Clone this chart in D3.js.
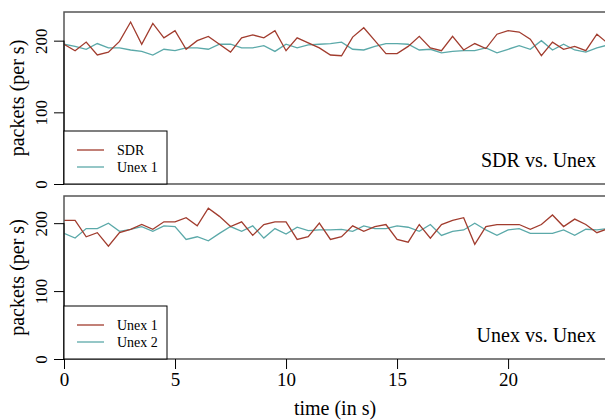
<!DOCTYPE html>
<html lang="en">
<head>
<meta charset="utf-8">
<title>packets per second</title>
<script src="https://cdnjs.cloudflare.com/ajax/libs/d3/7.8.5/d3.min.js"></script>
<style>
  body { margin: 0; background: #fff; }
  svg text { font-family: "Liberation Serif", "Times New Roman", serif !important; fill: #000; }
</style>
</head>
<body>
<script>
// samples every 0.5 s
var sdr = [195,186,198,180,184,199,226,195,224,204,214,188,200,206,195,184,204,208,204,214,
           186,204,197,190,180,179,205,218,200,182,182,192,206,190,186,206,187,196,189,209,
           214,212,202,179,198,188,192,186,209,196];
var unexA = [195,192,188,196,190,190,187,185,180,188,186,190,190,188,195,195,190,190,193,185,
             195,190,194,195,196,198,188,187,192,196,196,195,187,188,183,185,186,186,190,183,
             188,193,188,200,187,195,187,184,190,194];
var unex1 = [204,204,180,186,166,186,191,198,191,202,202,208,196,222,210,195,202,182,198,202,
             202,176,180,200,176,180,196,188,195,198,176,172,198,178,198,204,208,169,195,198,
             198,198,191,198,212,195,206,198,186,192];
var unex2 = [185,178,192,192,200,188,191,195,188,196,195,176,180,174,185,195,188,196,178,192,
             184,194,189,190,190,191,188,196,192,192,196,194,188,198,182,188,190,200,190,182,
             190,192,185,185,185,190,182,191,190,192];
var xTicks = [0, 5, 10, 15, 20];
var yTicks = [0, 100, 200];

var panels = [
  {top: 12, bottom: 184, a: sdr, b: unexA, names: ["SDR", "Unex 1"], title: "SDR vs. Unex"},
  {top: 196, bottom: 359, a: unex1, b: unex2, names: ["Unex 1", "Unex 2"], title: "Unex vs. Unex"}
];

var w = 605, h = 420;
var left = 64, right = 608;
var red = "#a13c2e", teal = "#5ba9a9";

var svg = d3.select("body").append("svg").attr("width", w).attr("height", h)
  .attr("font-family", "Liberation Serif");

var x = d3.scaleLinear().domain([0, 24.5]).range([left, right]);

panels.forEach(function(p, k) {
  var y = d3.scaleLinear().domain([0, 240]).range([p.bottom, p.top]);
  var g = svg.append("g");

  g.append("clipPath").attr("id", "clip" + k)
    .append("rect").attr("x", left).attr("y", p.top).attr("width", right - left).attr("height", p.bottom - p.top);

  var line = d3.line()
    .x(function(d, i) { return x(i * 0.5); })
    .y(function(d) { return y(d); });

  g.append("path").datum(p.b).attr("d", line)
    .attr("clip-path", "url(#clip" + k + ")")
    .style("fill", "none").style("stroke", teal).style("stroke-width", 1.3);
  g.append("path").datum(p.a).attr("d", line)
    .attr("clip-path", "url(#clip" + k + ")")
    .style("fill", "none").style("stroke", red).style("stroke-width", 1.3);

  // panel box
  g.append("rect").attr("x", left).attr("y", p.top)
    .attr("width", right - left + 4).attr("height", p.bottom - p.top)
    .style("fill", "none").style("stroke", "#555").style("stroke-width", 1.5);

  // y axis
  var ya = g.append("g").attr("transform", "translate(" + left + ",0)")
    .call(d3.axisLeft(y).tickValues(yTicks).tickSize(10).tickFormat(d3.format("d")))
    .attr("font-family", null);
  ya.select(".domain").attr("d", "M0," + y(0) + "V" + y(200)).style("stroke", "#000");
  ya.selectAll(".tick line").style("stroke", "#000");
  ya.selectAll(".tick text")
    .attr("x", null).attr("dy", null)
    .attr("transform", "translate(-17,0) rotate(-90)")
    .attr("text-anchor", "middle")
    .style("font-size", "17px");

  g.append("text")
    .attr("transform", "translate(24," + ((p.top + p.bottom) / 2) + ") rotate(-90)")
    .attr("text-anchor", "middle")
    .style("font-size", "20px")
    .text("packets (per s)");

  // legend
  var lg = g.append("g");
  var lh = 53;
  lg.append("rect").attr("x", left).attr("y", p.bottom - lh)
    .attr("width", 103).attr("height", lh)
    .style("fill", "#fff").style("stroke", "#000").style("stroke-width", 1);
  [red, teal].forEach(function(c, i) {
    var ly = p.bottom - lh + 19 + i * 17;
    lg.append("line").attr("x1", left + 13).attr("x2", left + 40)
      .attr("y1", ly).attr("y2", ly)
      .style("stroke", c).style("stroke-width", 1.3);
    lg.append("text").attr("x", left + 53).attr("y", ly + 5)
      .style("font-size", "14px").text(p.names[i]);
  });

  g.append("text").attr("x", 596).attr("y", p.bottom - 17)
    .attr("text-anchor", "end").style("font-size", "20px").text(p.title);

  if (k === 1) {
    var xa = g.append("g").attr("transform", "translate(0," + p.bottom + ")")
      .call(d3.axisBottom(x).tickValues(xTicks).tickSize(10))
      .attr("font-family", null);
    xa.select(".domain").remove();
    xa.selectAll(".tick line").style("stroke", "#000");
    xa.selectAll(".tick text").attr("y", 14).attr("dy", "0.71em")
      .style("font-size", "19px");
    g.append("text").attr("x", 335).attr("y", 415)
      .attr("text-anchor", "middle").style("font-size", "20px").text("time (in s)");
  }
});
</script>
</body>
</html>
